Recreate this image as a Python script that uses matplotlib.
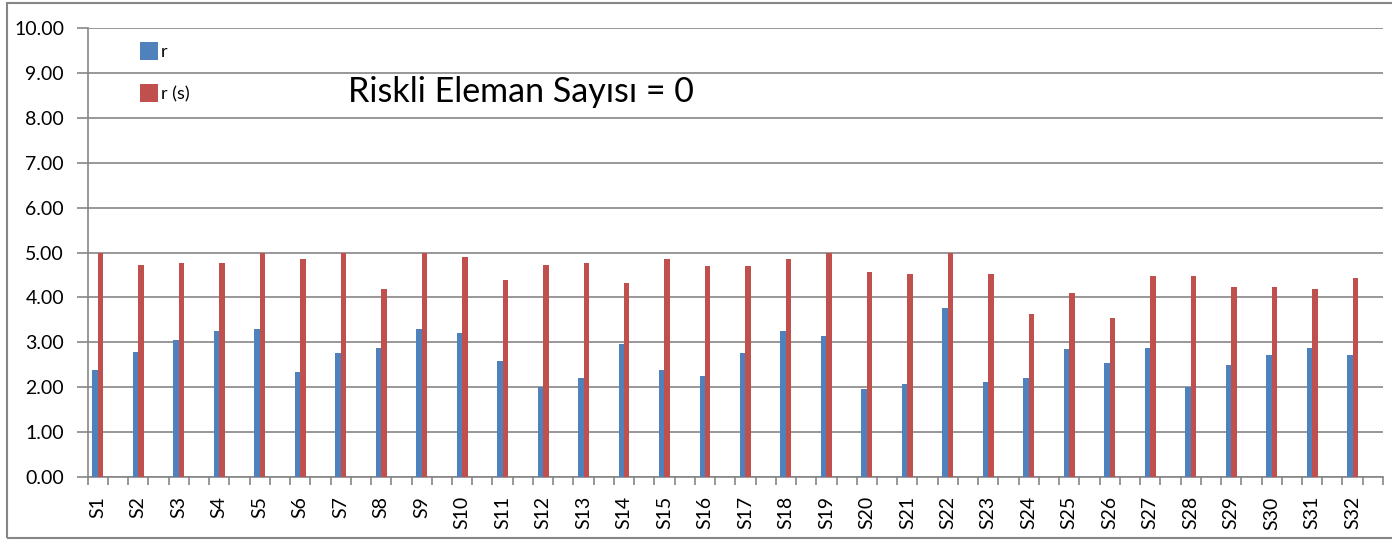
import numpy as np
import matplotlib.pyplot as plt
from matplotlib.patches import Rectangle

plt.rcParams['font.family'] = ['Lato', 'DejaVu Sans']

labels = ['S%d' % i for i in range(1, 33)]
r = [2.37, 2.79, 3.05, 3.26, 3.30, 2.33, 2.75, 2.88, 3.30, 3.21,
     2.59, 2.00, 2.21, 2.96, 2.37, 2.24, 2.75, 3.25, 3.13, 1.95,
     2.07, 3.76, 2.11, 2.21, 2.84, 2.54, 2.87, 2.00, 2.50, 2.71,
     2.87, 2.71]
r_s = [5.00, 4.73, 4.76, 4.76, 5.00, 4.85, 5.00, 4.18, 5.00, 4.90,
       4.39, 4.73, 4.77, 4.31, 4.86, 4.69, 4.69, 4.86, 5.00, 4.56,
       4.52, 5.00, 4.52, 3.63, 4.10, 3.55, 4.48, 4.48, 4.23, 4.23,
       4.19, 4.44]

blue = '#4F81BD'
red = '#C0504D'
grid_c = '#868686'

fig = plt.figure(figsize=(13.92, 5.4), dpi=100)
ax = fig.add_axes([0.063, 0.1172, 0.9305, 0.8304])

# every sample sits in its own slot followed by an empty one
x = np.arange(len(labels)) * 2
w = 0.27
ax.bar(x - w / 2, r, w, color=blue, label='r', zorder=3)
ax.bar(x + w / 2, r_s, w, color=red, label='r (s)', zorder=3)

ax.set_xlim(-0.5, 2 * len(labels) - 0.5)
ax.set_ylim(0, 10)
ax.set_yticks(np.arange(0, 11, 1))
ax.set_yticklabels(['%.2f' % v for v in np.arange(0, 11, 1)], fontsize=14)
ax.yaxis.grid(True, color=grid_c, linewidth=1.2, zorder=0)

ax.set_xticks(x)
ax.set_xticklabels(labels, rotation=90, fontsize=14)
ax.set_xticks(np.arange(-0.5, 2 * len(labels), 1), minor=True)
ax.tick_params(axis='x', which='major', length=0, pad=14)
ax.tick_params(axis='x', which='minor', length=6, color=grid_c, width=1.2)
ax.tick_params(axis='y', length=8, color=grid_c, width=1.2, pad=9)

for s in ['top', 'right']:
    ax.spines[s].set_visible(False)
for s in ['left', 'bottom']:
    ax.spines[s].set_color(grid_c)
    ax.spines[s].set_linewidth(1.2)

ax.legend(loc='upper left', bbox_to_anchor=(0.035, 0.985), frameon=False,
          fontsize=13, handlelength=1.0, handleheight=1.1, handletextpad=0.15,
          labelspacing=1.35, borderaxespad=0)

fig.text(0.25, 0.8117, 'Riskli Eleman Sayısı = 0', fontsize=24.5,
         ha='left', va='baseline')

# outer chart border
fig.patches.append(Rectangle((7 / 1392, 2 / 540), 1.0, 535 / 540,
                             transform=fig.transFigure, fill=False,
                             edgecolor=grid_c, linewidth=1.5))

fig.savefig('out.png', dpi=100)
